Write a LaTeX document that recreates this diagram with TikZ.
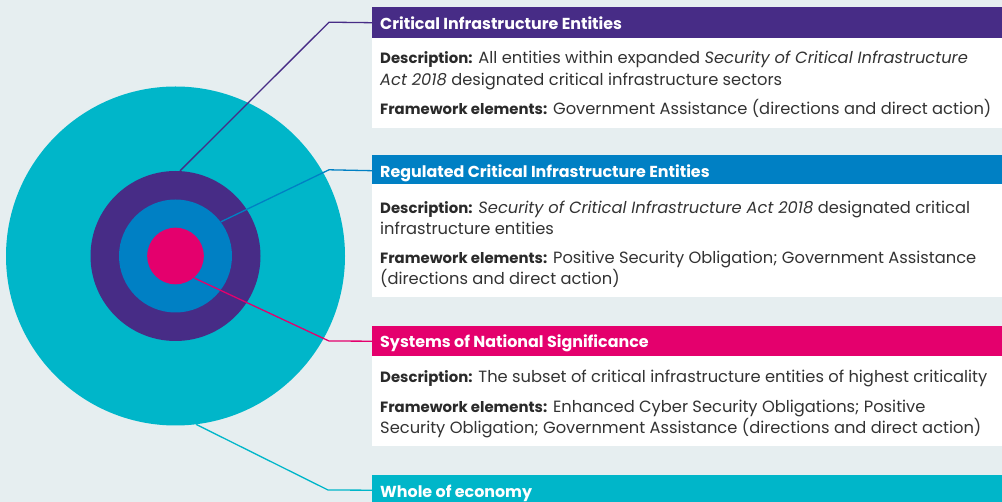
\documentclass[tikz,border=0pt]{standalone}
\usepackage{fontspec}
\setmainfont{Poppins}
\definecolor{bgc}{HTML}{E6EEF0}
\definecolor{cteal}{HTML}{00B6C9}
\definecolor{cpurple}{HTML}{472C86}
\definecolor{cblue}{HTML}{0080C4}
\definecolor{cpink}{HTML}{E4006D}
\definecolor{ctext}{HTML}{333333}
\definecolor{clabel}{HTML}{2A2A2A}
\newcommand{\lbl}[1]{{\fontsize{14.9}{20}\selectfont\bfseries\color{clabel}#1}}
\begin{document}
\begin{tikzpicture}[x=1pt,y=-1pt,
  ring/.style={circle,inner sep=0pt,draw=none},
  hdrbox/.style={anchor=north west,minimum width=630pt,minimum height=31pt,inner sep=0pt,draw=none},
  bodybox/.style={anchor=north west,minimum width=630pt,inner sep=0pt,fill=white,draw=none},
  hdrtext/.style={anchor=base west,inner sep=0pt,text=white,font=\fontsize{15.9}{18}\selectfont\bfseries},
  bodytext/.style={anchor=base west,inner sep=0pt,text=ctext,font=\fontsize{16.3}{20}\selectfont},
  conn/.style={line width=1.3pt}
]
\useasboundingbox (0,0) rectangle (1002,502);
\fill[bgc] (0,0) rectangle (1002,502);

% circles
\node[ring,fill=cteal,minimum size=339pt] (whole) at (175.5,256) {};
\node[ring,fill=cpurple,minimum size=170pt] (cie) at (175.5,256) {};
\node[ring,fill=cblue,minimum size=113pt] (rcie) at (175.5,256) {};
\node[ring,fill=cpink,minimum size=56.6pt] (sons) at (175.5,256) {};

% box 1
\node[hdrbox,fill=cpurple] (h1) at (372,7) {};
\node[bodybox,minimum height=89.5pt] (b1) at (372,38) {};
\node[hdrtext] (t1) at (380,29.3) {Critical Infrastructure Entities};
\node[bodytext] (d1a) at (380,63.8) {\lbl{Description:} All entities within expanded \textit{Security of Critical Infrastructure}};
\node[bodytext] (d1b) at (380,85.5) {\textit{Act 2018} designated critical infrastructure sectors};
\node[bodytext] (f1a) at (380,114.8) {\lbl{Framework elements:} Government Assistance (directions and direct action)};

% box 2
\node[hdrbox,fill=cblue] (h2) at (372,155) {};
\node[bodybox,minimum height=113pt] (b2) at (372,184.3) {};
\node[hdrtext] (t2) at (380,177.7) {Regulated Critical Infrastructure Entities};
\node[bodytext] (d2a) at (380,213.5) {\lbl{Description:} \textit{Security of Critical Infrastructure Act 2018} designated critical};
\node[bodytext] (d2b) at (380,234.8) {infrastructure entities};
\node[bodytext] (f2a) at (380,263.8) {\lbl{Framework elements:} Positive Security Obligation; Government Assistance};
\node[bodytext] (f2b) at (380,285) {(directions and direct action)};

% box 3
\node[hdrbox,fill=cpink] (h3) at (372,325.5) {};
\node[bodybox,minimum height=90.5pt] (b3) at (372,355.7) {};
\node[hdrtext] (t3) at (380,347.7) {Systems of National Significance};
\node[bodytext] (d3a) at (380,383) {\lbl{Description:} The subset of critical infrastructure entities of highest criticality};
\node[bodytext] (f3a) at (380,412.8) {\lbl{Framework elements:} Enhanced Cyber Security Obligations; Positive};
\node[bodytext] (f3b) at (380,433.8) {Security Obligation; Government Assistance (directions and direct action)};

% box 4
\node[hdrbox,fill=cteal] (h4) at (372,474.5) {};
\node[hdrtext] (t4) at (380,497) {Whole of economy};

% connectors
\coordinate (k1) at (329,22.2);
\coordinate (k2) at (329,169.8);
\coordinate (k3) at (329,341);
\coordinate (k4) at (328,490);
\draw[conn,cpurple] (cie.87.6) -- (k1) -- (h1.west);
\draw[conn,cblue] (rcie.37.3) -- (k2) -- (h2.west);
\draw[conn,cpink] (sons.-50) -- (k3) -- (h3.west);
\draw[conn,cteal] (whole.-83.6) -- (k4) -- (h4.west);
\end{tikzpicture}
\end{document}
